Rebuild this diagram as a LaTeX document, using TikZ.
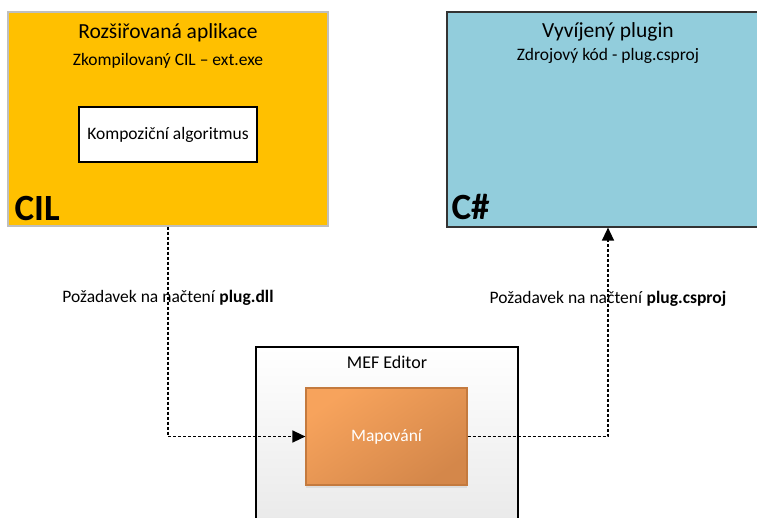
\documentclass[tikz,border=0pt]{standalone}
\usepackage{fontspec}
\setmainfont{Carlito}
\usetikzlibrary{positioning,arrows.meta,shadows}

\definecolor{cilzluta}{HTML}{FFC000}
\definecolor{cilokraj}{HTML}{BFBFBF}
\definecolor{csmodra}{HTML}{92CDDC}
\definecolor{mapsvetla}{HTML}{F7A35C}
\definecolor{maptmava}{HTML}{D4874A}
\definecolor{mapokraj}{HTML}{C47A3E}

\tikzset{
	blok/.style={inner sep=0pt, line width=1.2pt},
	nadpis/.style={inner sep=0pt, font=\fontsize{21.5}{25}\selectfont},
	podnadpis/.style={inner sep=0pt, font=\fontsize{17.5}{21}\selectfont},
	jazyk/.style={inner sep=0pt, font=\fontsize{37}{40}\selectfont\bfseries},
	popis/.style={inner sep=1pt, font=\fontsize{17.5}{21}\selectfont},
	pozadavek/.style={line width=1.5pt, dash pattern=on 3pt off 2pt,
		-{Triangle[length=13pt,width=12pt]}}
}

\begin{document}
\begin{tikzpicture}[x=1pt,y=-1pt]
		\useasboundingbox (0,0) rectangle (757,517);
		\clip (0,0) rectangle (757,517);
		
		% bloky
		\node[blok, draw=cilokraj, fill=cilzluta, minimum width=320pt, minimum height=214pt] (app) at (168,119) {};
		\node[blok, draw=black!80, fill=csmodra, minimum width=322pt, minimum height=215pt] (plug) at (608,119.5) {};
		\node[blok, draw=black, top color=white, bottom color=black!9, minimum width=262pt, minimum height=190pt] (mef) at (387,442) {};
		
		\node[nadpis] (apptitle) at ([yshift=-21pt]app.north) {Rozšiřovaná aplikace};
		\node[podnadpis] (appsub) at ([yshift=-49pt]app.north) {Zkompilovaný CIL – ext.exe};
		\node[blok, draw=black, fill=white, minimum width=178pt, minimum height=55pt,
			font=\fontsize{17.5}{21}\selectfont] (alg) at (168,134.5) {Kompoziční algoritmus};
		\node[jazyk, anchor=base west] (cil) at ([xshift=7pt,yshift=6pt]app.south west) {CIL};
		
		\node[nadpis] (plugtitle) at ([yshift=-20.5pt]plug.north) {Vyvíjený plugin};
		\node[podnadpis] (plugsub) at ([yshift=-44.5pt]plug.north) {Zdrojový kód - plug.csproj};
		\node[jazyk, anchor=base west] (cs) at ([xshift=5pt,yshift=8pt]plug.south west) {C\#};
		
		\node[podnadpis, font=\fontsize{18}{21}\selectfont] (meftitle) at ([yshift=-16pt]mef.north) {MEF Editor};
		\node[blok, draw=mapokraj, top color=mapsvetla, bottom color=maptmava, shading angle=35,
			drop shadow={opacity=0.15, shadow xshift=0pt, shadow yshift=-3pt},
			minimum width=161pt, minimum height=97pt, text=white,
			font=\fontsize{17.5}{21}\selectfont] (map) at (386.5,436.5) {Mapování};
		
		% pozadavky
		\draw[pozadavek] (app.south) |- (map.west)
			node[popis, pos=0.17] {Požadavek na načtení \textbf{plug.dll}};
		\draw[pozadavek] (map.east) -| (plug.south)
			node[popis, pos=0.83] {Požadavek na načtení \textbf{plug.csproj}};
\end{tikzpicture}
\end{document}
